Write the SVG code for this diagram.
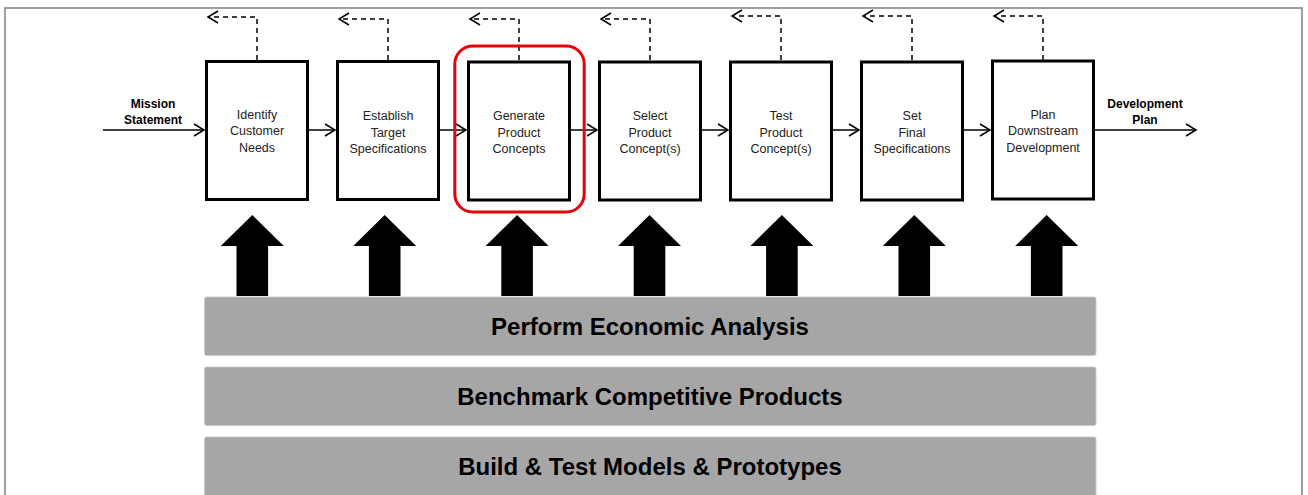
<svg xmlns="http://www.w3.org/2000/svg" width="1308" height="495" viewBox="0 0 1308 495">
<style>
.frame{fill:#fff;stroke:#7f7f7f;stroke-width:1.5}
.box{fill:#fff;stroke:#000;stroke-width:3}
.lbl{font-family:"Liberation Sans",Arial,sans-serif;font-size:12.5px;fill:#222;text-anchor:middle}
.io{font-family:"Liberation Sans",Arial,sans-serif;font-size:12px;font-weight:bold;fill:#000;text-anchor:middle}
.conn{fill:none;stroke:#000;stroke-width:1.5}
.dash{fill:none;stroke:#000;stroke-width:1.5;stroke-dasharray:5 4}
.big{fill:#000}
.bar{fill:#a6a6a6;stroke:#c8c8c8;stroke-width:0.8}
.bartxt{font-family:"Liberation Sans",Arial,sans-serif;font-size:24px;font-weight:bold;fill:#000;text-anchor:middle}
.hl{fill:none;stroke:#e8000b;stroke-width:3}
</style>
<defs>
<marker id="ah" markerUnits="userSpaceOnUse" markerWidth="14" markerHeight="14" viewBox="-12 -7 14 14" refX="0" refY="0" orient="auto">
<path d="M-10,-6 L0,0 L-10,6" fill="none" stroke="#000" stroke-width="1.5"/>
</marker>
</defs>
<rect class="frame" x="5" y="8" width="1297" height="500"/>

<g id="connectors">
<path class="conn" d="M103,130 H204" marker-end="url(#ah)"/>
<path class="conn" d="M309,130 H335" marker-end="url(#ah)"/>
<path class="conn" d="M440,130 H466" marker-end="url(#ah)"/>
<path class="conn" d="M571,130 H597" marker-end="url(#ah)"/>
<path class="conn" d="M702,130 H728" marker-end="url(#ah)"/>
<path class="conn" d="M833,130 H859" marker-end="url(#ah)"/>
<path class="conn" d="M964,130 H990" marker-end="url(#ah)"/>
<path class="conn" d="M1095,130 H1196" marker-end="url(#ah)"/>
<path class="dash" d="M257,60 V17 H208" marker-end="url(#ah)"/>
<path class="dash" d="M388,60 V19 H339" marker-end="url(#ah)"/>
<path class="dash" d="M519,60 V19 H470" marker-end="url(#ah)"/>
<path class="dash" d="M650,60 V19 H601" marker-end="url(#ah)"/>
<path class="dash" d="M781,60 V16 H732" marker-end="url(#ah)"/>
<path class="dash" d="M912,60 V16 H863" marker-end="url(#ah)"/>
<path class="dash" d="M1043,60 V16 H994" marker-end="url(#ah)"/>
</g>

<g id="mission-statement"><text class="io" x="153" y="108">Mission</text><text class="io" x="153" y="124">Statement</text></g>
<g id="development-plan"><text class="io" x="1145" y="108">Development</text><text class="io" x="1145" y="124">Plan</text></g>

<g id="identify-customer-needs"><rect class="box" x="206.5" y="61.5" width="101" height="138"/>
<text class="lbl" x="257" y="118.5">Identify</text><text class="lbl" x="257" y="135">Customer</text><text class="lbl" x="257" y="151.5">Needs</text></g>
<g id="establish-target-specifications"><rect class="box" x="337.5" y="61.5" width="101" height="138"/>
<text class="lbl" x="388" y="120">Establish</text><text class="lbl" x="388" y="136.5">Target</text><text class="lbl" x="388" y="153">Specifications</text></g>
<g id="generate-product-concepts"><rect class="box" x="468.5" y="62" width="101" height="138"/>
<text class="lbl" x="519" y="120">Generate</text><text class="lbl" x="519" y="136.5">Product</text><text class="lbl" x="519" y="153">Concepts</text>
<rect class="hl" x="454.8" y="46" width="129.4" height="166" rx="18"/></g>
<g id="select-product-concepts"><rect class="box" x="599.5" y="62" width="101" height="138"/>
<text class="lbl" x="650" y="120">Select</text><text class="lbl" x="650" y="136.5">Product</text><text class="lbl" x="650" y="153">Concept(s)</text></g>
<g id="test-product-concepts"><rect class="box" x="730.5" y="62" width="101" height="138"/>
<text class="lbl" x="781" y="120">Test</text><text class="lbl" x="781" y="136.5">Product</text><text class="lbl" x="781" y="153">Concept(s)</text></g>
<g id="set-final-specifications"><rect class="box" x="861.5" y="62" width="101" height="138"/>
<text class="lbl" x="912" y="120">Set</text><text class="lbl" x="912" y="136.5">Final</text><text class="lbl" x="912" y="153">Specifications</text></g>
<g id="plan-downstream-development"><rect class="box" x="992.5" y="61" width="101" height="138"/>
<text class="lbl" x="1043" y="118.5">Plan</text><text class="lbl" x="1043" y="135">Downstream</text><text class="lbl" x="1043" y="151.5">Development</text></g>

<g id="support-arrows">
<polygon class="big" points="252.3,215 283.8,246 268.1,246 268.1,296 236.5,296 236.5,246 220.8,246"/>
<polygon class="big" points="384.7,215 416.2,246 400.5,246 400.5,296 368.9,296 368.9,246 353.2,246"/>
<polygon class="big" points="517.1,215 548.6,246 532.9,246 532.9,296 501.3,296 501.3,246 485.6,246"/>
<polygon class="big" points="649.5,215 681,246 665.3,246 665.3,296 633.7,296 633.7,246 618,246"/>
<polygon class="big" points="781.9,215 813.4,246 797.7,246 797.7,296 766.1,296 766.1,246 750.4,246"/>
<polygon class="big" points="914.3,215 945.8,246 930.1,246 930.1,296 898.5,296 898.5,246 882.8,246"/>
<polygon class="big" points="1046.7,215 1078.2,246 1062.5,246 1062.5,296 1030.9,296 1030.9,246 1015.2,246"/>
</g>

<g id="perform-economic-analysis"><rect class="bar" x="204.5" y="297" width="891.5" height="58.5" rx="2"/>
<text class="bartxt" x="650" y="335">Perform Economic Analysis</text></g>
<g id="benchmark-competitive-products"><rect class="bar" x="204.5" y="367" width="891.5" height="58.5" rx="2"/>
<text class="bartxt" x="650" y="405">Benchmark Competitive Products</text></g>
<g id="build-test-models-prototypes"><rect class="bar" x="204.5" y="437" width="891.5" height="70" rx="2"/>
<text class="bartxt" x="650" y="475">Build &amp; Test Models &amp; Prototypes</text></g>
</svg>
